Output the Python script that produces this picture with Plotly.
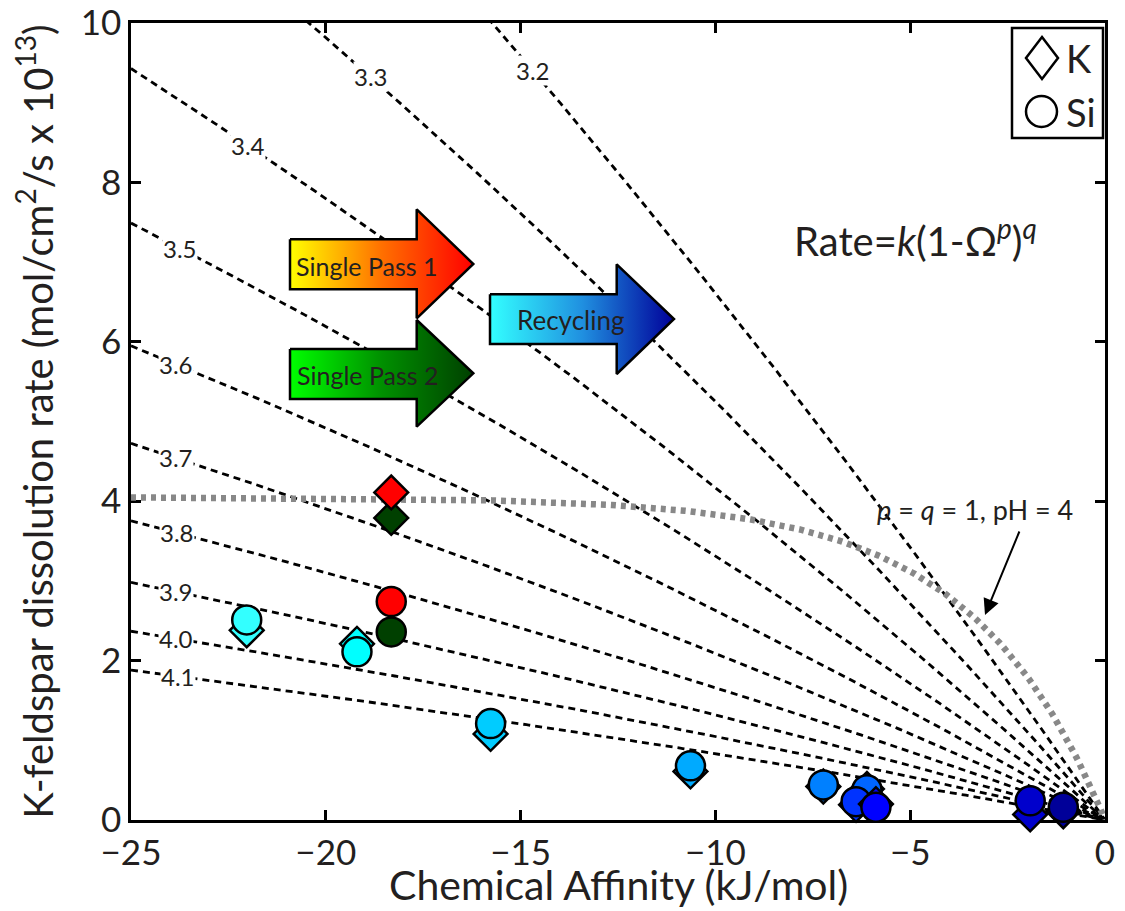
import numpy as np
import plotly.graph_objects as go

# ---------------- data ----------------
# Recycling experiments (K from diamonds, Si from circles)
rec_affinity = [-22.03, -19.2, -15.77, -10.64, -7.23, -6.11, -6.39, -5.88, -1.92, -1.07]
rec_rate_K = [2.38, 2.21, 1.08, 0.61, 0.42, 0.39, 0.19, 0.20, 0.07, 0.11]
rec_rate_Si = [2.51, 2.11, 1.21, 0.68, 0.44, 0.38, 0.23, 0.16, 0.24, 0.16]
rec_colors = ["#33FFFF", "#00FFFF", "#00CCFF", "#00AAFF", "#0080FF",
              "#0066FF", "#0033FF", "#0000FF", "#0000CC", "#000099"]

# Single pass experiments
sp_affinity = [-18.32, -18.32]
sp_rate_K = [3.79, 4.11]       # Single Pass 2, Single Pass 1
sp_rate_Si = [2.36, 2.74]
sp_colors = ["#004000", "#FF0000"]

# Rate-law model curves: Rate = k (1 - Omega^p)^q
ph_values = [3.2, 3.3, 3.4, 3.5, 3.6, 3.7, 3.8, 3.9, 4.0, 4.1]
k_ph4 = 8.02          # rate constant at pH 4 (x 1e-13)
p_over_RT = 0.014     # p / RT (mol/kJ)
gray_k = 4.05         # p = q = 1, pH = 4 curve
gray_RT = 3.4
label_pos_x = [-14.69, -18.85, -22.0, -23.74, -23.85, -23.85, -23.82, -23.85, -23.85, -23.8]

x_ticks = [-25, -20, -15, -10, -5, 0]
y_ticks = [0, 2, 4, 6, 8, 10]

FONT = "Lato"
TXT = "#231f20"

fig = go.Figure()

aff = np.linspace(-25, 0, 400)


def model(ph, a):
    a = np.asarray(a, dtype=float)
    return k_ph4 * 10 ** (4 - ph) * (1 - np.exp(p_over_RT * a))


for ph in ph_values:
    fig.add_trace(go.Scatter(x=aff, y=model(ph, aff), mode="lines",
                             line=dict(color="black", width=2.8, dash="7px,5px"),
                             showlegend=False, hoverinfo="skip"))

fig.add_trace(go.Scatter(x=aff, y=gray_k * (1 - np.exp(aff / gray_RT)), mode="lines",
                         line=dict(color="#888888", width=6.5, dash="5px,5px"),
                         showlegend=False, hoverinfo="skip"))

# ---------- block arrows (decoration) ----------
PL, PR, PT, PB = 131, 1105, 23, 820


def dx(px):
    return (px - PL) / (PR - PL) * 25 - 25


def dy(py):
    return (PB - py) / (PB - PT) * 10


def block_arrow(xl, xh, xt, yt, yb, yht, yhb, ytip, c0, c1):
    xs = [dx(v) for v in [xl, xh, xh, xt, xh, xh, xl, xl]]
    ys = [dy(v) for v in [yt, yt, yht, ytip, yhb, yb, yb, yt]]
    fig.add_trace(go.Scatter(x=xs, y=ys, mode="lines", fill="toself",
                             fillgradient=dict(type="horizontal",
                                               colorscale=[[0, c0[0]], [0.5, c0[1]], [1, c1]]),
                             line=dict(color="black", width=2.5),
                             showlegend=False, hoverinfo="skip"))


block_arrow(290, 416.7, 473.3, 239.3, 289.3, 209.3, 318.3, 264, ("#FFFF00", "#FF7000"), "#FF0000")
block_arrow(290, 416.7, 473.3, 349, 399, 320, 426.7, 373.3, ("#00FF00", "#009000"), "#004000")
block_arrow(490, 616.7, 674, 294.3, 344, 264.3, 374, 319, ("#33FFFF", "#2090E0"), "#000099")

# ---------- data markers ----------
for i in range(len(sp_affinity)):
    fig.add_trace(go.Scatter(x=[sp_affinity[i]], y=[sp_rate_K[i]], mode="markers",
                             marker=dict(symbol="diamond", size=26, color=sp_colors[i],
                                         line=dict(color="black", width=2.5)),
                             cliponaxis=False, showlegend=False))
for i in range(len(sp_affinity)):
    fig.add_trace(go.Scatter(x=[sp_affinity[i]], y=[sp_rate_Si[i]], mode="markers",
                             marker=dict(symbol="circle", size=29, color=sp_colors[i],
                                         line=dict(color="black", width=2.5)),
                             cliponaxis=False, showlegend=False))
for i in range(len(rec_affinity)):
    fig.add_trace(go.Scatter(x=[rec_affinity[i]], y=[rec_rate_K[i]], mode="markers",
                             marker=dict(symbol="diamond", size=26, color=rec_colors[i],
                                         line=dict(color="black", width=2.5)),
                             cliponaxis=False, showlegend=False))
    fig.add_trace(go.Scatter(x=[rec_affinity[i]], y=[rec_rate_Si[i]], mode="markers",
                             marker=dict(symbol="circle", size=29, color=rec_colors[i],
                                         line=dict(color="black", width=2.5)),
                             cliponaxis=False, showlegend=False))

annotations = []
for ph, lx in zip(ph_values, label_pos_x):
    annotations.append(dict(x=lx, y=float(model(ph, lx)), text=f"{ph:.1f}", showarrow=False,
                            font=dict(family=FONT, size=24, color=TXT),
                            bgcolor="white", borderpad=0))

annotations += [
    dict(x=dx(367), y=dy(266), text="Single Pass 1", showarrow=False,
         font=dict(family=FONT, size=25, color=TXT)),
    dict(x=dx(368), y=dy(375), text="Single Pass 2", showarrow=False,
         font=dict(family=FONT, size=25, color=TXT)),
    dict(x=dx(570), y=dy(320), text="Recycling", showarrow=False,
         font=dict(family=FONT, size=26, color=TXT)),
    dict(x=dx(915), y=dy(238), text="Rate=<i>k</i>(1-Ω<sup><i>p</i></sup>)<sup><i>q</i></sup>",
         showarrow=False, font=dict(family=FONT, size=40, color=TXT)),
    dict(x=dx(975), y=dy(509), text="<i>p</i> = <i>q</i> = 1, pH = 4", showarrow=False,
         font=dict(family=FONT, size=27, color=TXT)),
    dict(x=dx(985), y=dy(615), ax=35, ay=-85, text="", showarrow=True,
         arrowhead=2, arrowsize=1.6, arrowwidth=2, arrowcolor="black"),
]


def px_(px):
    return (px - PL) / (PR - PL)


def py_(py):
    return (PB - py) / (PB - PT)


shapes = [
    dict(type="rect", xref="paper", yref="paper", x0=px_(1012), x1=px_(1103),
         y0=py_(138), y1=py_(28), line=dict(color="black", width=2.5), fillcolor="white"),
    dict(type="path", xref="paper", yref="paper",
         path=f"M {px_(1042)} {py_(37)} L {px_(1058)} {py_(58)} L {px_(1042)} {py_(79)} "
              f"L {px_(1026)} {py_(58)} Z",
         line=dict(color="black", width=2.5), fillcolor="white"),
    dict(type="circle", xref="paper", yref="paper", x0=px_(1026), x1=px_(1057),
         y0=py_(127), y1=py_(96), line=dict(color="black", width=2.5), fillcolor="white"),
]
annotations += [
    dict(xref="paper", yref="paper", x=px_(1064), y=py_(58), xanchor="left", yanchor="middle",
         text="K", showarrow=False, font=dict(family=FONT, size=38, color=TXT)),
    dict(xref="paper", yref="paper", x=px_(1064), y=py_(112), xanchor="left", yanchor="middle",
         text="Si", showarrow=False, font=dict(family=FONT, size=38, color=TXT)),
    dict(xref="paper", yref="paper", x=0.5, y=py_(910), xanchor="center", yanchor="bottom",
         text="Chemical Affinity (kJ/mol)", showarrow=False, borderpad=0,
         font=dict(family=FONT, size=41, color=TXT)),
]

axis_common = dict(showline=True, linecolor="black", linewidth=2.5, mirror="ticks",
                   ticks="inside", ticklen=10, tickwidth=2.5, tickcolor="black",
                   showgrid=False, zeroline=False, layer="below traces",
                   ticklabeloverflow="allow", automargin=False,
                   tickfont=dict(family=FONT, size=35, color=TXT))

fig.update_layout(
    width=1125, height=911,
    margin=dict(l=PL, r=1125 - PR, t=PT, b=911 - PB, autoexpand=False),
    plot_bgcolor="white", paper_bgcolor="white",
    xaxis=dict(range=[-25, 0], tickvals=x_ticks, **axis_common),
    yaxis=dict(range=[0, 10], tickvals=y_ticks, **axis_common,
               title=dict(text="K-feldspar dissolution rate (mol/cm<sup>2</sup>/s x 10<sup>13</sup>)",
                          font=dict(family=FONT, size=40, color=TXT))),
    annotations=annotations,
    shapes=shapes,
    showlegend=False,
)

fig.write_html("out.html")
